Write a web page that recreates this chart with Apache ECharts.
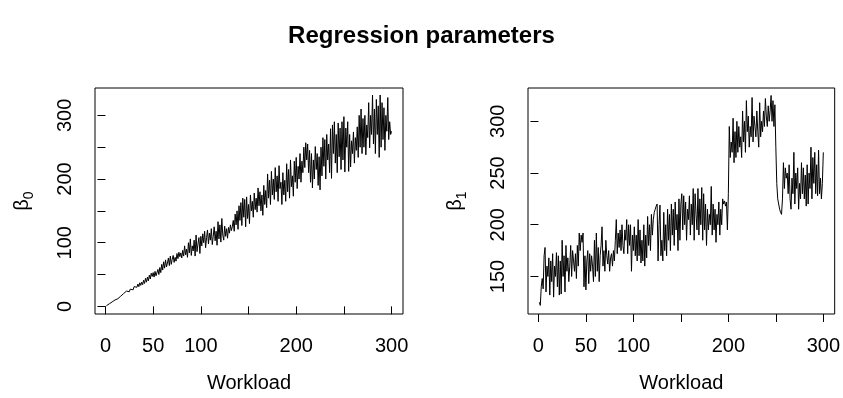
<!DOCTYPE html>
<html>
<head>
<meta charset="utf-8">
<script src="https://cdn.jsdelivr.net/npm/echarts@6/dist/echarts.min.js"></script>
<style>
html,body{margin:0;padding:0;background:#fff;}
#chart{width:843px;height:398px;}
</style>
</head>
<body>
<div id="chart"></div>
<script>
// ---- data ----
const titleText = 'Regression parameters';
const xLabel = 'Workload';
const workload = Array.from({length: 300}, (_, i) => i + 1);

const beta0 = [
  1, 2, 3, 4, 5, 6, 7, 8, 9, 10,
  11, 11, 12, 14, 13, 16, 18, 17, 20, 22,
  21, 24, 22, 26, 23, 27, 25, 29, 26, 31,
  28, 33, 30, 35, 31, 37, 33, 38, 34, 41,
  36, 44, 38, 46, 40, 49, 43, 52, 47, 53,
  46, 55, 48, 45, 58, 50, 61, 53, 66, 57,
  70, 60, 73, 62, 68, 76, 64, 79, 66, 74,
  80, 69, 77, 71, 83, 75, 85, 78, 84, 76,
  88, 79, 95, 81, 90, 77, 100, 84, 106, 80,
  95, 87, 104, 79, 112, 86, 98, 108, 83, 110,
  95, 114, 100, 118, 92, 108, 120, 98, 115, 104,
  122, 97, 110, 125, 103, 118, 96, 133, 106, 128,
  101, 138, 112, 104, 126, 110, 122, 107, 124, 115,
  128, 119, 125, 135, 118, 145, 128, 150, 121, 158,
  135, 163, 127, 170, 140, 168, 125, 172, 138, 160,
  130, 175, 150, 165, 140, 178, 152, 170, 148, 186,
  158, 180, 150, 175, 143, 190, 160, 182, 155, 208,
  170, 198, 160, 212, 175, 200, 168, 218, 180, 205,
  165, 221, 185, 195, 160, 210, 175, 198, 165, 224,
  180, 215, 170, 230, 188, 205, 173, 228, 195, 234,
  185, 220, 200, 240, 195, 228, 210, 250, 218, 257,
  230, 255, 210, 245, 195, 240, 186, 230, 200, 251,
  215, 240, 190, 235, 183, 250, 205, 265, 220, 262,
  200, 270, 230, 255, 210, 279, 201, 285, 240, 290,
  225, 270, 210, 288, 235, 280, 215, 290, 230, 298,
  211, 280, 250, 290, 212, 270, 219, 260, 240, 274,
  225, 265, 245, 282, 234, 300, 250, 310, 240, 295,
  250, 300, 238, 285, 265, 320, 249, 300, 270, 332,
  255, 310, 240, 325, 270, 315, 234, 332, 250, 320,
  262, 312, 245, 300, 275, 328, 262, 290, 270, 275
];

const beta1 = [
  125, 122, 140, 148, 138, 170, 178, 135, 160, 150,
  168, 132, 165, 145, 172, 130, 160, 150, 173, 140,
  170, 132, 165, 133, 185, 150, 170, 135, 180, 155,
  168, 145, 160, 180, 150, 175, 165, 155, 172, 148,
  180, 160, 192, 175, 190, 183, 192, 140, 170, 137,
  165, 175, 143, 172, 155, 170, 160, 145, 185, 150,
  192, 155, 178, 145, 170, 180, 198, 160, 175, 155,
  185, 170, 162, 175, 155, 168, 172, 160, 175, 165,
  185, 205, 172, 192, 178, 195, 175, 200, 180, 172,
  195, 185, 205, 172, 200, 180, 200, 155, 190, 175,
  198, 170, 190, 165, 205, 170, 195, 163, 185, 165,
  200, 160, 190, 168, 208, 180, 200, 175, 210, 190,
  205, 212, 215, 218, 220, 165, 200, 219, 170, 185,
  165, 212, 175, 200, 170, 215, 185, 210, 175, 220,
  190, 215, 180, 222, 195, 210, 175, 225, 185, 220,
  230, 195, 228, 200, 222, 185, 215, 205, 228, 190,
  220, 200, 235, 185, 230, 210, 195, 235, 190, 225,
  200, 236, 185, 230, 195, 220, 180, 215, 195, 210,
  200, 237, 190, 220, 195, 215, 183, 210, 200, 222,
  190, 215, 200, 225, 220, 223, 218, 222, 195, 230,
  295, 265, 280, 270, 303, 260, 290, 265, 300, 270,
  295, 275, 285, 265, 310, 280, 300, 270, 320, 290,
  305, 275, 295, 285, 323, 280, 305, 295, 285, 310,
  290, 275, 318, 285, 300, 290, 310, 295, 322, 305,
  295, 315, 300, 310, 325, 300, 320, 295, 316, 275,
  240, 225, 220, 215, 212, 210, 225, 260, 235, 255,
  245, 250, 230, 258, 225, 215, 245, 230, 270, 220,
  250, 235, 255, 215, 240, 225, 260, 230, 255, 225,
  248, 218, 258, 220, 250, 235, 275, 225, 265, 240,
  270, 230, 258, 228, 272, 230, 245, 225, 240, 270
];

const xTicks = [0, 50, 100, 150, 200, 250, 300];
const xTickLabels = [0, 50, 100, 200, 300];
const y0Ticks = [0, 50, 100, 150, 200, 250, 300];
const y0TickLabels = [0, 100, 200, 300];
const y1Ticks = [150, 200, 250, 300];
const y1TickLabels = [150, 200, 250, 300];

// ---- chart ----
const FONT = '"Liberation Sans", Arial, Helvetica, sans-serif';
const chart = echarts.init(document.getElementById('chart'), null, {renderer: 'canvas'});

function xAxisDef(gridIndex) {
  return {
    type: 'value', gridIndex: gridIndex,
    min: -10.96, max: 311.96,
    splitLine: {show: false},
    axisLine: {show: false},
    axisTick: {show: true, inside: false, length: 8, customValues: xTicks,
               lineStyle: {color: '#000', width: 1}},
    axisLabel: {show: true, customValues: xTickLabels, margin: 22,
                color: '#000', fontSize: 20, fontFamily: FONT},
    name: xLabel, nameLocation: 'middle', nameGap: 59,
    nameTextStyle: {color: '#000', fontSize: 20, fontFamily: FONT}
  };
}

function yAxisDef(gridIndex, min, max, ticks, labels, sub) {
  return {
    type: 'value', gridIndex: gridIndex,
    min: min, max: max,
    splitLine: {show: false},
    axisLine: {show: false},
    axisTick: {show: true, inside: false, length: 8, customValues: ticks,
               lineStyle: {color: '#000', width: 1}},
    axisLabel: {show: true, customValues: labels, rotate: 90, margin: 20,
                color: '#000', fontSize: 20, fontFamily: FONT},
    name: '{b|β}{s|' + sub + '}', nameLocation: 'middle', nameGap: 59, nameRotate: 90,
    nameTextStyle: {
      color: '#000', fontFamily: FONT,
      rich: {
        b: {fontSize: 20, fontFamily: FONT, color: '#000', lineHeight: 28, verticalAlign: 'middle'},
        s: {fontSize: 14, fontFamily: FONT, color: '#000', lineHeight: 14, verticalAlign: 'bottom'}
      }
    }
  };
}

const option = {
  animation: false,
  backgroundColor: '#fff',
  title: {
    text: titleText, left: 'center', top: 24, padding: 0,
    textStyle: {fontSize: 24, fontWeight: 'bold', color: '#000', fontFamily: FONT}
  },
  grid: [
    {left: 95, top: 88, width: 308, height: 234, show: true, borderColor: '#000', borderWidth: 1, backgroundColor: 'transparent'},
    {left: 528, top: 88, width: 308, height: 234, show: true, borderColor: '#000', borderWidth: 1, backgroundColor: 'transparent'}
  ],
  xAxis: [xAxisDef(0), xAxisDef(1)],
  yAxis: [
    yAxisDef(0, -12, 343, y0Ticks, y0TickLabels, '0'),
    yAxisDef(1, 113.7, 332.2, y1Ticks, y1TickLabels, '1')
  ],
  series: [
    {type: 'line', xAxisIndex: 0, yAxisIndex: 0, showSymbol: false, symbol: 'none',
     lineStyle: {color: '#000', width: 1}, data: workload.map((x, i) => [x, beta0[i]])},
    {type: 'line', xAxisIndex: 1, yAxisIndex: 1, showSymbol: false, symbol: 'none',
     lineStyle: {color: '#000', width: 1}, data: workload.map((x, i) => [x, beta1[i]])}
  ]
};
chart.setOption(option);
</script>
</body>
</html>
